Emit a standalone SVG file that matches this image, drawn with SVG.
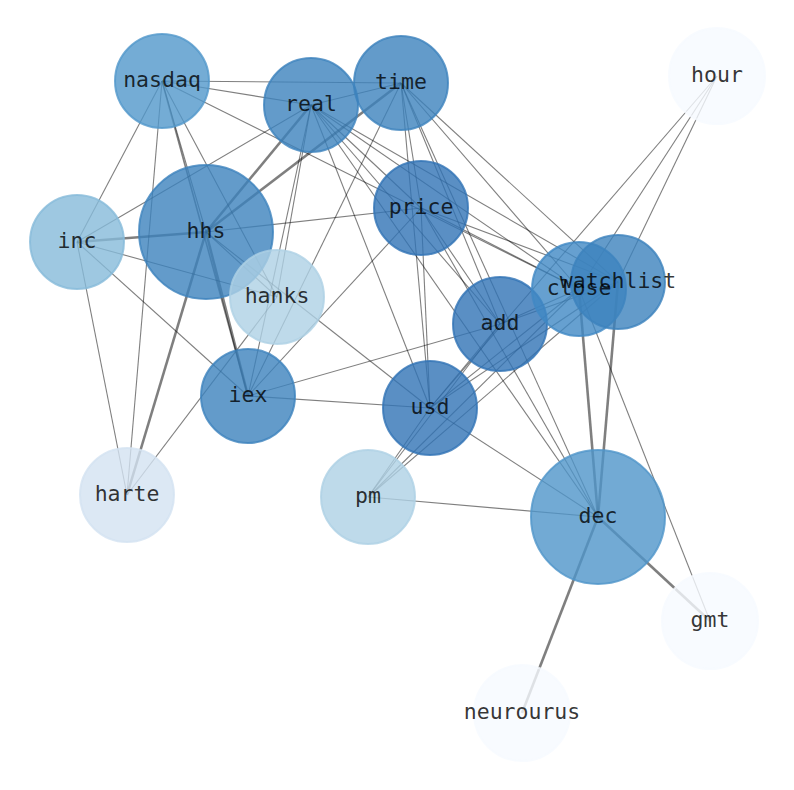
<svg xmlns="http://www.w3.org/2000/svg" width="794" height="790" viewBox="0 0 794 790">
<style>
.e{stroke:#000;stroke-opacity:0.5;stroke-width:1.1;fill:none}
.t{stroke-width:2.6}
.n{fill-opacity:0.8;stroke-opacity:0.8;stroke-width:2}
.l{font-family:"DejaVu Sans Mono",monospace;font-size:21.5px;fill:#000;fill-opacity:0.8;text-anchor:middle}
</style>
<rect width="794" height="790" fill="#fff"/>
<g id="edges">
<line class="e" x1="162" y1="81" x2="401" y2="83"/>
<line class="e" x1="162" y1="81" x2="311" y2="105"/>
<line class="e" x1="162" y1="81" x2="77" y2="242"/>
<line class="e" x1="162" y1="81" x2="127" y2="495"/>
<line class="e" x1="162" y1="81" x2="248" y2="396" style="stroke-width:1.6"/>
<line class="e" x1="162" y1="81" x2="206" y2="232"/>
<line class="e" x1="162" y1="81" x2="277" y2="297"/>
<line class="e" x1="162" y1="81" x2="579" y2="289"/>
<line class="e" x1="311" y1="105" x2="401" y2="83"/>
<line class="e" x1="311" y1="105" x2="77" y2="242"/>
<line class="e" x1="311" y1="105" x2="248" y2="396"/>
<line class="e" x1="311" y1="105" x2="277" y2="297"/>
<line class="e" x1="311" y1="105" x2="430" y2="408"/>
<line class="e" x1="311" y1="105" x2="421" y2="208"/>
<line class="e" x1="311" y1="105" x2="500" y2="324"/>
<line class="e" x1="311" y1="105" x2="579" y2="289"/>
<line class="e" x1="311" y1="105" x2="618" y2="282"/>
<line class="e" x1="311" y1="105" x2="598" y2="517"/>
<line class="e" x1="401" y1="83" x2="248" y2="396"/>
<line class="e" x1="401" y1="83" x2="421" y2="208"/>
<line class="e" x1="401" y1="83" x2="430" y2="408"/>
<line class="e" x1="401" y1="83" x2="500" y2="324"/>
<line class="e" x1="401" y1="83" x2="598" y2="517"/>
<line class="e" x1="401" y1="83" x2="579" y2="289"/>
<line class="e" x1="401" y1="83" x2="618" y2="282"/>
<line class="e" x1="421" y1="208" x2="206" y2="232"/>
<line class="e" x1="421" y1="208" x2="248" y2="396"/>
<line class="e" x1="421" y1="208" x2="500" y2="324"/>
<line class="e" x1="421" y1="208" x2="579" y2="289"/>
<line class="e" x1="421" y1="208" x2="618" y2="282"/>
<line class="e" x1="421" y1="208" x2="430" y2="408"/>
<line class="e" x1="421" y1="208" x2="598" y2="517"/>
<line class="e" x1="77" y1="242" x2="277" y2="297"/>
<line class="e" x1="77" y1="242" x2="248" y2="396"/>
<line class="e" x1="77" y1="242" x2="127" y2="495"/>
<line class="e" x1="206" y1="232" x2="277" y2="297"/>
<line class="e" x1="206" y1="232" x2="430" y2="408"/>
<line class="e" x1="248" y1="396" x2="430" y2="408"/>
<line class="e" x1="248" y1="396" x2="500" y2="324"/>
<line class="e" x1="127" y1="495" x2="277" y2="297"/>
<line class="e" x1="430" y1="408" x2="598" y2="517"/>
<line class="e" x1="430" y1="408" x2="500" y2="324"/>
<line class="e" x1="430" y1="408" x2="579" y2="289"/>
<line class="e" x1="430" y1="408" x2="618" y2="282"/>
<line class="e" x1="430" y1="408" x2="717" y2="76"/>
<line class="e" x1="368" y1="497" x2="430" y2="408"/>
<line class="e" x1="368" y1="497" x2="500" y2="324"/>
<line class="e" x1="368" y1="497" x2="579" y2="289"/>
<line class="e" x1="368" y1="497" x2="618" y2="282"/>
<line class="e" x1="368" y1="497" x2="598" y2="517"/>
<line class="e" x1="579" y1="289" x2="710" y2="621"/>
<line class="e" x1="717" y1="76" x2="579" y2="289"/>
<line class="e" x1="717" y1="76" x2="618" y2="282"/>
<line class="e" x1="500" y1="324" x2="579" y2="289"/>
<line class="e" x1="500" y1="324" x2="618" y2="282"/>
<line class="e t" x1="206" y1="232" x2="77" y2="242"/>
<line class="e t" x1="206" y1="232" x2="311" y2="105"/>
<line class="e t" x1="206" y1="232" x2="401" y2="83"/>
<line class="e t" x1="206" y1="232" x2="248" y2="396"/>
<line class="e t" x1="206" y1="232" x2="127" y2="495"/>
<line class="e t" x1="579" y1="289" x2="598" y2="517"/>
<line class="e t" x1="618" y1="282" x2="598" y2="517"/>
<line class="e t" x1="598" y1="517" x2="710" y2="621"/>
<line class="e t" x1="598" y1="517" x2="522" y2="713"/>
</g>
<g id="node-nasdaq"><circle class="n" cx="162" cy="81" r="47" fill="#5197ca" stroke="#5197ca"/></g>
<g id="node-real"><circle class="n" cx="311" cy="105" r="47" fill="#3c82bd" stroke="#3c82bd"/></g>
<g id="node-time"><circle class="n" cx="401" cy="83" r="47" fill="#3c82bd" stroke="#3c82bd"/></g>
<g id="node-hhs"><circle class="n" cx="206" cy="232" r="67" fill="#3c82bd" stroke="#3c82bd"/></g>
<g id="node-price"><circle class="n" cx="421" cy="208" r="47" fill="#3173b5" stroke="#3173b5"/></g>
<g id="node-inc"><circle class="n" cx="77" cy="242" r="47" fill="#86bad9" stroke="#86bad9"/></g>
<g id="node-hanks"><circle class="n" cx="277" cy="297" r="47" fill="#aed1e5" stroke="#aed1e5"/></g>
<g id="node-iex"><circle class="n" cx="248" cy="396" r="47" fill="#3c82bd" stroke="#3c82bd"/></g>
<g id="node-usd"><circle class="n" cx="430" cy="408" r="47" fill="#3173b5" stroke="#3173b5"/></g>
<g id="node-harte"><circle class="n" cx="127" cy="495" r="47" fill="#d3e2f1" stroke="#d3e2f1"/></g>
<g id="node-pm"><circle class="n" cx="368" cy="497" r="47" fill="#aed1e5" stroke="#aed1e5"/></g>
<g id="node-add"><circle class="n" cx="500" cy="324" r="47" fill="#3173b5" stroke="#3173b5"/></g>
<g id="node-close"><circle class="n" cx="579" cy="289" r="47" fill="#4088c4" stroke="#4088c4"/></g>
<g id="node-watchlist"><circle class="n" cx="618" cy="282" r="47" fill="#3c82bd" stroke="#3c82bd"/></g>
<g id="node-dec"><circle class="n" cx="598" cy="517" r="67" fill="#4f95c9" stroke="#4f95c9"/></g>
<g id="node-hour"><circle class="n" cx="717" cy="76" r="48" fill="#f6faff" stroke="#f6faff"/></g>
<g id="node-gmt"><circle class="n" cx="710" cy="621" r="48" fill="#f6faff" stroke="#f6faff"/></g>
<g id="node-neurourus"><circle class="n" cx="522" cy="713" r="48" fill="#f6faff" stroke="#f6faff"/></g>
<g id="labels">
<text class="l" x="162" y="87">nasdaq</text>
<text class="l" x="311" y="111">real</text>
<text class="l" x="401" y="89">time</text>
<text class="l" x="206" y="238">hhs</text>
<text class="l" x="421" y="214">price</text>
<text class="l" x="77" y="248">inc</text>
<text class="l" x="277" y="303">hanks</text>
<text class="l" x="248" y="402">iex</text>
<text class="l" x="430" y="414">usd</text>
<text class="l" x="127" y="501">harte</text>
<text class="l" x="368" y="503">pm</text>
<text class="l" x="500" y="330">add</text>
<text class="l" x="579" y="295">close</text>
<text class="l" x="618" y="288">watchlist</text>
<text class="l" x="598" y="523">dec</text>
<text class="l" x="717" y="82">hour</text>
<text class="l" x="710" y="627">gmt</text>
<text class="l" x="522" y="719">neurourus</text>
</g>
</svg>
